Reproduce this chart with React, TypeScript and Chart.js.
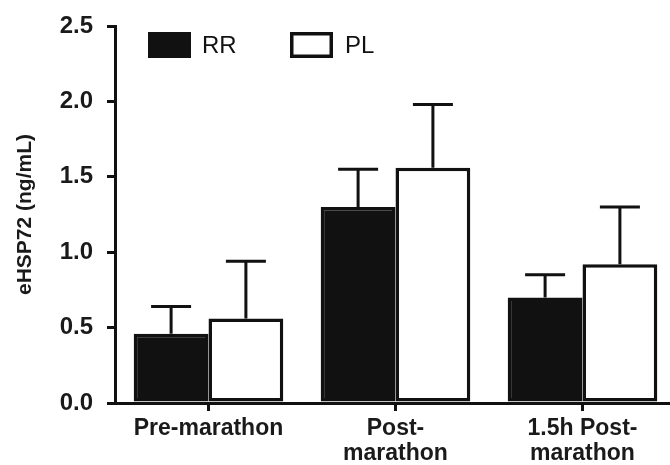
import React, { useEffect, useRef } from "react";
import { Chart, registerables } from "chart.js";

Chart.register(...registerables);

const categories: (string | string[])[] = ["Pre-marathon", ["Post-", "marathon"], ["1.5h Post-", "marathon"]];
const rrValues = [0.46, 1.3, 0.7];
const rrErrors = [0.18, 0.25, 0.15];
const plValues = [0.56, 1.56, 0.92];
const plErrors = [0.38, 0.42, 0.38];
const seriesNames = ["RR", "PL"];
const yTicks = [0, 0.5, 1.0, 1.5, 2.0, 2.5];

const INK = "#111111";
const FONT = "'Liberation Sans', Arial, Helvetica, sans-serif";

const errorBarPlugin = {
  id: "errorBars",
  afterDatasetsDraw(chart: any) {
    const { ctx } = chart;
    const yScale = chart.scales.y;
    chart.data.datasets.forEach((ds: any, di: number) => {
      const meta = chart.getDatasetMeta(di);
      meta.data.forEach((bar: any, i: number) => {
        const v = ds.data[i];
        const e = ds.errors[i];
        const yTop = yScale.getPixelForValue(v + e);
        const yBar = yScale.getPixelForValue(v);
        ctx.save();
        ctx.strokeStyle = INK;
        ctx.lineWidth = 3;
        ctx.beginPath();
        ctx.moveTo(bar.x, yBar);
        ctx.lineTo(bar.x, yTop);
        ctx.moveTo(bar.x - 20, yTop);
        ctx.lineTo(bar.x + 20, yTop);
        ctx.stroke();
        ctx.restore();
      });
    });
  },
};

const legendPlugin = {
  id: "insideLegend",
  afterDraw(chart: any) {
    const { ctx, chartArea } = chart;
    const x0 = chartArea.left + 33;
    const y0 = chartArea.top + 6;
    const bw = 43;
    const bh = 26;
    ctx.save();
    ctx.fillStyle = INK;
    ctx.fillRect(x0, y0, bw, bh);
    ctx.font = `24px ${FONT}`;
    ctx.textBaseline = "middle";
    ctx.textAlign = "left";
    ctx.fillText(seriesNames[0], x0 + 54, y0 + bh / 2 + 1);
    const x1 = x0 + 142;
    ctx.fillStyle = "#ffffff";
    ctx.fillRect(x1, y0, bw, bh);
    ctx.strokeStyle = INK;
    ctx.lineWidth = 3.5;
    ctx.strokeRect(x1 + 1.75, y0 + 1.75, bw - 3.5, bh - 3.5);
    ctx.fillStyle = INK;
    ctx.fillText(seriesNames[1], x1 + 55, y0 + bh / 2 + 1);
    ctx.restore();
  },
};

export default function App() {
  const canvasRef = useRef<HTMLCanvasElement>(null);

  useEffect(() => {
    const canvas = canvasRef.current;
    if (!canvas) return;
    const chart = new Chart(canvas, {
      type: "bar",
      data: {
        labels: categories as any,
        datasets: [
          {
            label: seriesNames[0],
            data: rrValues,
            errors: rrErrors,
            backgroundColor: INK,
            borderColor: INK,
            borderWidth: 3.5,
            borderSkipped: false,
          } as any,
          {
            label: seriesNames[1],
            data: plValues,
            errors: plErrors,
            backgroundColor: "#ffffff",
            borderColor: INK,
            borderWidth: 3.5,
            borderSkipped: false,
          } as any,
        ],
      },
      options: {
        responsive: false,
        animation: false,
        layout: { padding: { left: 0, right: 4, top: 26, bottom: 0 } },
        plugins: {
          legend: { display: false },
          tooltip: { enabled: false },
        },
        datasets: {
          bar: { categoryPercentage: 0.8, barPercentage: 1.0 },
        },
        scales: {
          x: {
            grid: {
              display: true,
              drawOnChartArea: false,
              drawTicks: true,
              tickLength: 8,
              lineWidth: 3,
              color: INK,
              offset: false,
            },
            border: { display: true, color: INK, width: 3 },
            ticks: {
              color: "#1a1a1a",
              font: { family: FONT, size: 23, weight: "bold", lineHeight: 1.1 },
              padding: 5,
              maxRotation: 0,
              autoSkip: false,
            },
            afterFit(scale: any) {
              scale.height = 62;
              scale.paddingLeft = 0;
              scale.paddingRight = 0;
            },
          },
          y: {
            min: 0,
            max: 2.5,
            afterBuildTicks(scale: any) {
              scale.ticks = yTicks.map((v) => ({ value: v }));
            },
            grid: {
              display: true,
              drawOnChartArea: false,
              drawTicks: true,
              tickLength: 8,
              lineWidth: 3,
              color: INK,
            },
            border: { display: true, color: INK, width: 3 },
            ticks: {
              color: "#1a1a1a",
              font: { family: FONT, size: 24, weight: "bold" },
              padding: 14,
              callback: (v: any) => Number(v).toFixed(1),
            },
            title: {
              display: true,
              text: "eHSP72 (ng/mL)",
              color: "#1a1a1a",
              font: { family: FONT, size: 21, weight: "bold" },
              padding: { top: 13, bottom: 0 },
            },
            afterFit(scale: any) {
              scale.width = 115;
              scale.paddingTop = 0;
              scale.paddingBottom = 0;
            },
          },
        },
      },
      plugins: [errorBarPlugin, legendPlugin],
    });
    return () => chart.destroy();
  }, []);

  return (
    <div style={{ position: "fixed", left: 0, top: 0, width: 680, height: 465, background: "#ffffff", overflow: "hidden" }}>
      <canvas ref={canvasRef} width={680} height={465} style={{ display: "block" }} />
    </div>
  );
}
